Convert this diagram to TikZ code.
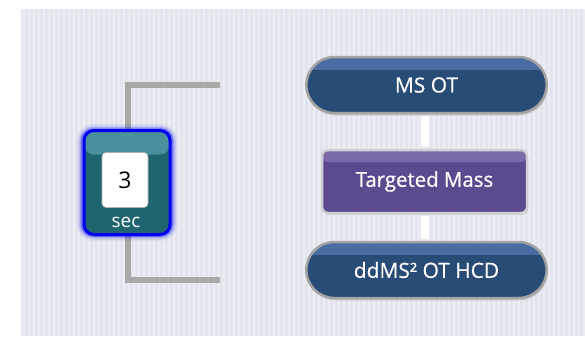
\documentclass[tikz,border=0pt]{standalone}
\usepackage{fontspec}
\setmainfont{Open Sans}
\newfontfamily\labelfont[FakeBold=0.6]{Open Sans}
\usetikzlibrary{shapes.misc,shadows}
\definecolor{panel}{HTML}{E2E5ED}
\definecolor{stripe}{HTML}{ECEEF3}
\definecolor{bracketgray}{HTML}{A9A9A9}
\definecolor{pillbody}{HTML}{284C75}
\definecolor{pilltop}{HTML}{4A6CA1}
\definecolor{pillrim}{HTML}{A3A3A3}
\definecolor{tmbody}{HTML}{5B4A8E}
\definecolor{tmtop}{HTML}{7B6AA8}
\definecolor{tmrim}{HTML}{CFCFD4}
\definecolor{teal}{HTML}{1F6570}
\definecolor{tealtop}{HTML}{4A909C}
\definecolor{glowblue}{HTML}{0000F0}
\tikzset{
  pill/.style={rounded rectangle, minimum width=247bp, minimum height=56bp,
    fill=pillbody, draw=pillrim, line width=2.5bp, text=white,
    font=\labelfont\fontsize{21}{24}\selectfont,
    drop shadow={opacity=0.25, shadow xshift=1bp, shadow yshift=-2.5bp},
    path picture={\fill[pilltop] (path picture bounding box.north west) rectangle ([yshift=-13bp]path picture bounding box.north east);}},
  tmbox/.style={rectangle, rounded corners=6bp, minimum width=205bp, minimum height=63bp,
    fill=tmbody, draw=tmrim, line width=2.5bp, text=white,
    font=\labelfont\fontsize{20.5}{23}\selectfont,
    drop shadow={opacity=0.2, shadow xshift=1bp, shadow yshift=-2bp},
    path picture={\fill[tmtop] (path picture bounding box.north west) rectangle ([yshift=-12bp]path picture bounding box.north east);}},
  timerbox/.style={rectangle, rounded corners=10bp, minimum width=86bp, minimum height=104bp,
    fill=teal, draw=glowblue, line width=3bp,
    path picture={\fill[tealtop] (path picture bounding box.north west) rectangle ([yshift=-24bp]path picture bounding box.north east);}},
  valuebox/.style={rectangle, rounded corners=4bp, minimum width=46bp, minimum height=55bp,
    fill=white, draw=gray!60, line width=0.6bp, font=\fontsize{23}{26}\selectfont},
  unitlabel/.style={text=white, font=\fontsize{19}{20}\selectfont, inner sep=0pt},
  bracketline/.style={draw=bracketgray, line width=6.5bp},
  link/.style={draw=white, line width=8bp}
}
\begin{document}
\begin{tikzpicture}[x=1bp,y=-1bp]
\useasboundingbox (0,0) rectangle (585,337);
\fill[white] (0,0) rectangle (585,337);
\fill[panel] (21,9) rectangle (585,336);
\foreach \i in {0,...,112} \fill[stripe] ({23+5*\i},9) rectangle ({24.6+5*\i},336);
% bracket
\coordinate (tc) at (128,182.5);
\coordinate (brT) at (220,85);
\coordinate (brB) at (220,280);
\draw[bracketline] (brT) -| (tc) |- (brB);
% glow
\foreach \w/\o in {14/0.05,11/0.09,8/0.16,5.5/0.3}
  \draw[glowblue, line width=\w bp, opacity=\o, rounded corners=10bp] (83.5,131) rectangle (170.5,234);
\node[timerbox] (timer) at (127,182.5) {};
\node[valuebox] (val) at (125,180) {3};
\node[unitlabel] (unit) at (126,222) {sec};
% right column
\node[pill] (ms) at (426.5,85) {MS OT};
\node[tmbox] (tm) at (424.5,181.5) {Targeted Mass};
\node[pill] (dd) at (426.5,270) {ddMS² OT HCD};
\draw[link, shorten <=1.3bp, shorten >=1.3bp] (ms.south -| tm.north) -- (tm.north);
\draw[link, shorten <=1.3bp, shorten >=1.3bp] (tm.south) -- (tm.south |- dd.north);
\end{tikzpicture}
\end{document}
